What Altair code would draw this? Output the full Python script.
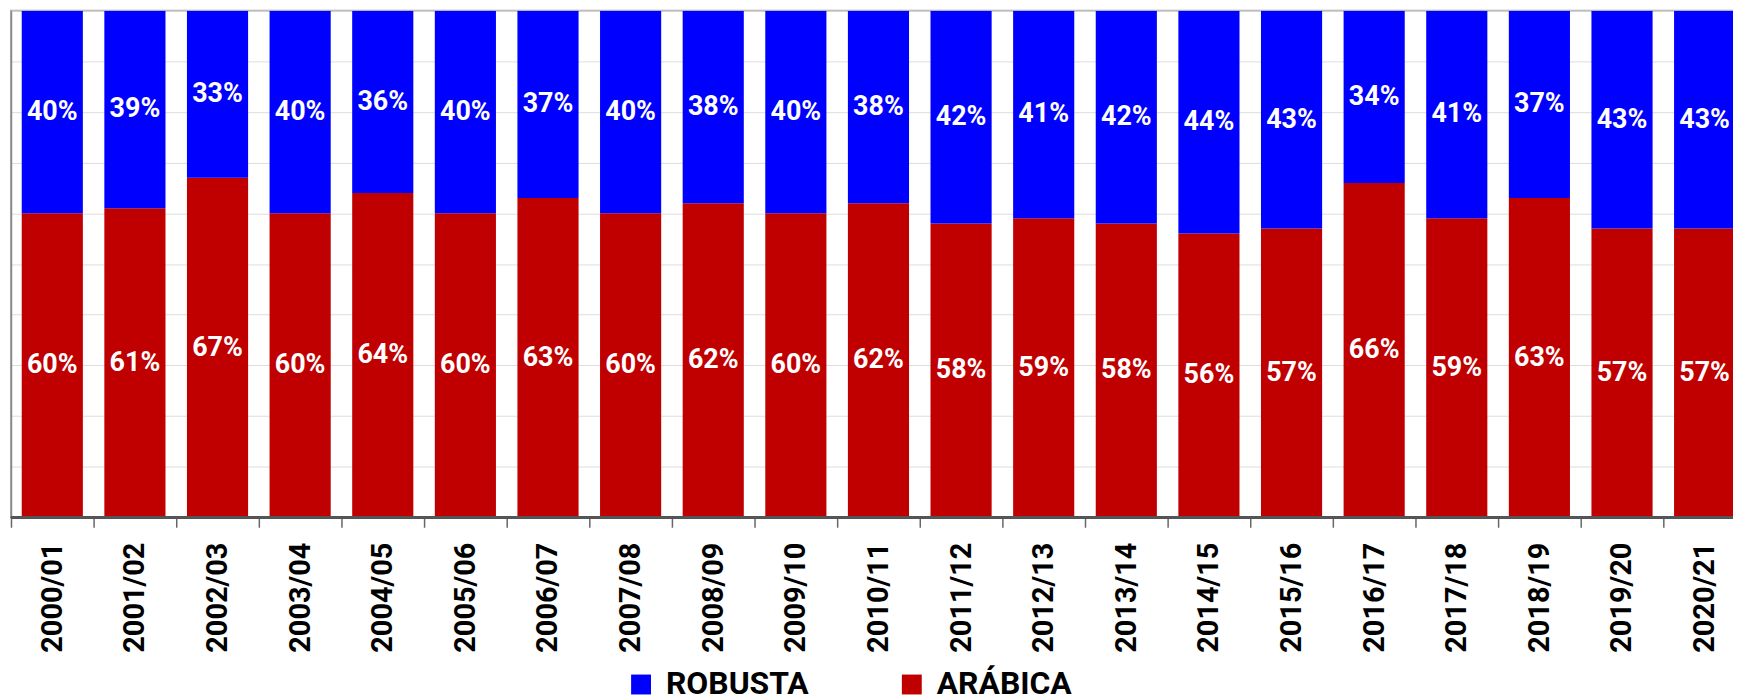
import altair as alt
import pandas as pd

seasons = ["2000/01", "2001/02", "2002/03", "2003/04", "2004/05", "2005/06", "2006/07",
           "2007/08", "2008/09", "2009/10", "2010/11", "2011/12", "2012/13", "2013/14",
           "2014/15", "2015/16", "2016/17", "2017/18", "2018/19", "2019/20", "2020/21"]
arabica = [60, 61, 67, 60, 64, 60, 63, 60, 62, 60, 62, 58, 59, 58, 56, 57, 66, 59, 63, 57, 57]
robusta = [40, 39, 33, 40, 36, 40, 37, 40, 38, 40, 38, 42, 41, 42, 44, 43, 34, 41, 37, 43, 43]
varieties = ["ROBUSTA", "ARÁBICA"]
colors = ["#0000FF", "#C00000"]
y_ticks = [0, 10, 20, 30, 40, 50, 60, 70, 80, 90, 100]

rows = []
for s, a, r in zip(seasons, arabica, robusta):
    rows.append({"season": s, "variety": "ARÁBICA", "pct": a, "ord": 0})
    rows.append({"season": s, "variety": "ROBUSTA", "pct": r, "ord": 1})
df = pd.DataFrame(rows)

W, H = 1730, 509
FULL = 1743
half_step = FULL / len(seasons) / 2

base = alt.Chart(df).transform_stack(
    stack="pct", groupby=["season"], as_=["y0", "y1"],
    sort=[alt.SortField("ord", order="ascending")]
).transform_calculate(
    mid="(datum.y0 + datum.y1) / 2",
    label="datum.pct + '%'"
)

x_scale = alt.Scale(paddingInner=0.26, paddingOuter=0.13, range=[0, FULL])

x_enc = alt.X(
    "season:N", sort=seasons, title=None, scale=x_scale,
    axis=alt.Axis(labelAngle=-90, labelAlign="right", labelBaseline="middle",
                  labelFontSize=29, labelFontWeight="bold", labelColor="#000000",
                  labelPadding=15, tickBand="center", tickOffset=-half_step,
                  labelOffset=half_step, tickSize=10, tickWidth=1.5,
                  tickColor="#666666", domain=False, grid=False)
)
y_scale = alt.Scale(domain=[0, 100], nice=False)

bars = base.mark_bar(clip=True).encode(
    x=x_enc,
    y=alt.Y("y0:Q", scale=y_scale, title=None,
            axis=alt.Axis(values=y_ticks, labels=False, ticks=False, grid=True,
                          gridColor="#dddddd", gridWidth=1,
                          domainColor="#888888", domainWidth=1.5)),
    y2="y1:Q",
    color=alt.Color("variety:N",
                    scale=alt.Scale(domain=varieties, range=colors),
                    legend=alt.Legend(title=None, orient="none", direction="horizontal",
                                      legendX=617, legendY=661, symbolType="square",
                                      symbolSize=400, symbolStrokeWidth=0,
                                      labelFontSize=32, labelFontWeight="bold",
                                      labelColor="#000000", labelOffset=9,
                                      columnPadding=87, padding=0, labelLimit=400)),
)

texts = base.mark_text(color="white", fontSize=27, fontWeight="bold",
                       baseline="middle", align="center").encode(
    x=alt.X("season:N", sort=seasons),
    y=alt.Y("mid:Q", scale=y_scale),
    text="label:N",
)

bottom_line = alt.Chart(df).mark_rule(color="#555555", strokeWidth=2).encode(
    x=alt.value(0), x2=alt.value(W), y=alt.value(H)
)

chart = alt.layer(bars, texts, bottom_line).properties(
    width=W, height=H,
    padding={"left": 3, "top": 1, "right": 0, "bottom": 200},
    autosize="none",
).configure(font="Roboto").configure_view(stroke="#aaaaaa", strokeWidth=2)

chart.save("out.html", embed_options={"renderer": "svg", "actions": False})
